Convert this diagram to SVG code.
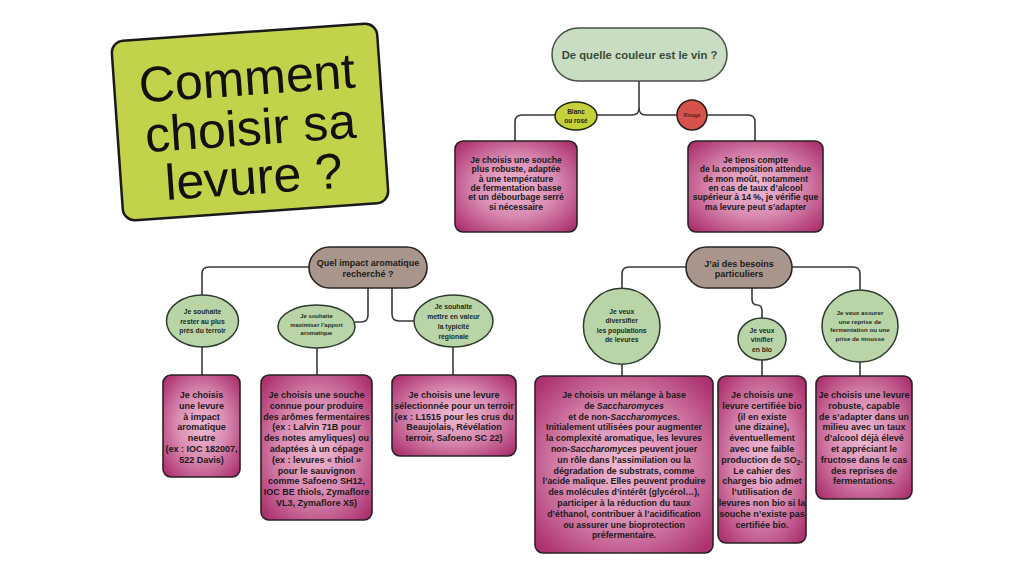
<svg xmlns="http://www.w3.org/2000/svg" width="1024" height="576" viewBox="0 0 1024 576">
<defs>
<radialGradient id="pink" cx="50%" cy="50%" r="65%">
<stop offset="0" stop-color="#eebad2"/>
<stop offset="0.5" stop-color="#d98bb1"/>
<stop offset="1" stop-color="#ad3370"/>
</radialGradient>
<style>
.box{fill:url(#pink);stroke:#2a2224;stroke-width:1.6}
.ell{fill:#b9d5a8;stroke:#2f3a2f;stroke-width:1.5}
.pill{fill:#a8968d;stroke:#2a2624;stroke-width:1.6}
.con{fill:none;stroke:#3a3a3a;stroke-width:1.6}
text{font-family:"Liberation Sans",Arial,sans-serif;font-weight:bold;text-anchor:middle;fill:#1c1a1b}
.bt{font-size:9px}
.tt{font-size:8.6px}
.et{font-size:6.8px;fill:#1f2a1f}
.pt{font-size:9px;fill:#211c1a}
</style>
</defs>
<rect width="1024" height="576" fill="#ffffff"/>

<g id="title" transform="translate(250,122) rotate(-4)">
<rect x="-133" y="-90" width="266" height="180" rx="12" fill="#c2d34b" stroke="#1a1a1a" stroke-width="2.5"/>
<text style="font-weight:normal;font-size:50px;fill:#111"><tspan x="0" y="-27">Comment</tspan><tspan x="0" y="23">choisir sa</tspan><tspan x="0" y="72">levure ?</tspan></text>
</g>

<g id="connectors">
<path class="con" d="M639,81 V108 Q639,115 632,115 H522 Q515,115 515,122 V141"/>
<path class="con" d="M639,108 Q639,115 646,115 H748 Q755,115 755,122 V141"/>
<path class="con" d="M309,267 H209 Q202,267 202,274 V295"/>
<path class="con" d="M368,288 V315 Q368,322 361,322 H355"/>
<path class="con" d="M392,288 V314 Q392,321 399,321 H414"/>
<path class="con" d="M202,347 V375"/>
<path class="con" d="M317,348 V375"/>
<path class="con" d="M453,347 V375"/>
<path class="con" d="M686,267 H629 Q622,267 622,274 V288"/>
<path class="con" d="M792,267 H853 Q860,267 860,274 V290"/>
<path class="con" d="M752,288 V299 Q752,305 757,305 Q762,305 762,311 V318"/>
<path class="con" d="M622,364 V376"/>
<path class="con" d="M762,360 V376"/>
<path class="con" d="M860,362 V376"/>
</g>

<g id="q-couleur">
<rect x="552" y="28" width="175" height="53" rx="26.5" fill="#c9ddc3" stroke="#4a4f48" stroke-width="1.5"/>
<text x="639.5" y="59" style="font-size:11.3px;fill:#3d4a3a">De quelle couleur est le vin ?</text>
</g>

<g id="blanc">
<ellipse cx="576" cy="116" rx="21" ry="14" fill="#c5d13a" stroke="#1f2418" stroke-width="1.5"/>
<text style="font-size:6.5px;fill:#1f2418"><tspan x="576" y="114">Blanc</tspan><tspan x="576" y="122.5">ou rosé</tspan></text>
</g>

<g id="rouge">
<circle cx="692" cy="115" r="15" fill="#d6524a" stroke="#2a1a1a" stroke-width="1.5"/>
<text x="692" y="117" style="font-size:5.5px;fill:#5a1e1e">Rouge</text>
</g>

<g id="box-blanc">
<rect class="box" x="455" y="141" width="122" height="91" rx="8"/>
<text class="tt"><tspan x="516" y="163">Je choisis une souche</tspan><tspan x="516" y="172.3">plus robuste, adaptée</tspan><tspan x="516" y="181.6">à une température</tspan><tspan x="516" y="190.9">de fermentation basse</tspan><tspan x="516" y="200.2">et un débourbage serré</tspan><tspan x="516" y="209.5">si nécessaire</tspan></text>
</g>

<g id="box-rouge">
<rect class="box" x="688" y="141" width="135" height="91" rx="8"/>
<text class="tt"><tspan x="755.5" y="163">Je tiens compte</tspan><tspan x="755.5" y="172.3">de la composition attendue</tspan><tspan x="755.5" y="181.6">de mon moût, notamment</tspan><tspan x="755.5" y="190.9">en cas de taux d’alcool</tspan><tspan x="755.5" y="200.2">supérieur à 14 %, je vérifie que</tspan><tspan x="755.5" y="209.5">ma levure peut s’adapter</tspan></text>
</g>

<g id="q-impact">
<rect class="pill" x="309" y="247" width="118" height="41" rx="20.5"/>
<text class="pt"><tspan x="368" y="266">Quel impact aromatique</tspan><tspan x="368" y="276.5">recherché ?</tspan></text>
</g>

<g id="q-besoins">
<rect class="pill" x="686" y="247" width="106" height="41" rx="20.5"/>
<text class="pt"><tspan x="739" y="266.5">J’ai des besoins</tspan><tspan x="739" y="277">particuliers</tspan></text>
</g>

<g id="e-terroir">
<ellipse class="ell" cx="202.5" cy="321" rx="36" ry="26"/>
<text class="et"><tspan x="202.5" y="314">Je souhaite</tspan><tspan x="202.5" y="323.5">rester au plus</tspan><tspan x="202.5" y="333">près du terroir</tspan></text>
</g>

<g id="e-aroma">
<ellipse class="ell" cx="316.5" cy="326.5" rx="38.5" ry="21.5"/>
<text class="et" style="font-size:5.9px"><tspan x="316.5" y="318">Je souhaite</tspan><tspan x="316.5" y="326.5">maximiser l’apport</tspan><tspan x="316.5" y="335">aromatique</tspan></text>
</g>

<g id="e-typicite">
<ellipse class="ell" cx="453.5" cy="321" rx="39.5" ry="26"/>
<text class="et"><tspan x="453.5" y="309">Je souhaite</tspan><tspan x="453.5" y="319">mettre en valeur</tspan><tspan x="453.5" y="329">la typicité</tspan><tspan x="453.5" y="339">régionale</tspan></text>
</g>

<g id="e-diversifier">
<ellipse class="ell" cx="621.7" cy="326.3" rx="38.3" ry="38"/>
<text class="et"><tspan x="621.7" y="314">Je veux</tspan><tspan x="621.7" y="323.3">diversifier</tspan><tspan x="621.7" y="332.6">les populations</tspan><tspan x="621.7" y="342">de levures</tspan></text>
</g>

<g id="e-bio">
<ellipse class="ell" cx="762" cy="339" rx="24" ry="21"/>
<text class="et"><tspan x="762" y="333">Je veux</tspan><tspan x="762" y="342.3">vinifier</tspan><tspan x="762" y="351.6">en bio</tspan></text>
</g>

<g id="e-reprise">
<ellipse class="ell" cx="860" cy="326" rx="38" ry="36"/>
<text class="et" style="font-size:6.2px"><tspan x="860" y="315">Je veux assurer</tspan><tspan x="860" y="323.5">une reprise de</tspan><tspan x="860" y="332">fermentation ou une</tspan><tspan x="860" y="340.5">prise de mousse</tspan></text>
</g>

<g id="box-neutre">
<rect class="box" x="163" y="375" width="77" height="102" rx="8"/>
<text class="bt"><tspan x="201.5" y="398">Je choisis</tspan><tspan x="201.5" y="408.8">une levure</tspan><tspan x="201.5" y="419.6">à impact</tspan><tspan x="201.5" y="430.4">aromatique</tspan><tspan x="201.5" y="441.2">neutre</tspan><tspan x="201.5" y="452">(ex : IOC 182007,</tspan><tspan x="201.5" y="462.8">522 Davis)</tspan></text>
</g>

<g id="box-aromes">
<rect class="box" x="261" y="375" width="111" height="145" rx="8"/>
<text class="bt"><tspan x="316.5" y="398">Je choisis une souche</tspan><tspan x="316.5" y="408.8">connue pour produire</tspan><tspan x="316.5" y="419.6">des arômes fermentaires</tspan><tspan x="316.5" y="430.4">(ex : Lalvin 71B pour</tspan><tspan x="316.5" y="441.2">des notes amyliques) ou</tspan><tspan x="316.5" y="452">adaptées à un cépage</tspan><tspan x="316.5" y="462.8">(ex : levures « thiol »</tspan><tspan x="316.5" y="473.6">pour le sauvignon</tspan><tspan x="316.5" y="484.4">comme Safoeno SH12,</tspan><tspan x="316.5" y="495.2">IOC BE thiols, Zymaflore</tspan><tspan x="316.5" y="506">VL3, Zymaflore X5)</tspan></text>
</g>

<g id="box-terroir">
<rect class="box" x="392" y="375" width="124" height="81" rx="8"/>
<text class="bt"><tspan x="454" y="398">Je choisis une levure</tspan><tspan x="454" y="408.8">sélectionnée pour un terroir</tspan><tspan x="454" y="419.6">(ex : L1515 pour les crus du</tspan><tspan x="454" y="430.4">Beaujolais, Révélation</tspan><tspan x="454" y="441.2">terroir, Safoeno SC 22)</tspan></text>
</g>

<g id="box-melange">
<rect class="box" x="535" y="376" width="178" height="177" rx="8"/>
<text class="bt" style="font-size:8.8px"><tspan x="624" y="398">Je choisis un mélange à base</tspan><tspan x="624" y="408.8">de <tspan font-style="italic">Saccharomyces</tspan></tspan><tspan x="624" y="419.6">et de non-<tspan font-style="italic">Saccharomyces</tspan>.</tspan><tspan x="624" y="430.4">Initialement utilisées pour augmenter</tspan><tspan x="624" y="441.2">la complexité aromatique, les levures</tspan><tspan x="624" y="452">non-<tspan font-style="italic">Saccharomyces</tspan> peuvent jouer</tspan><tspan x="624" y="462.8">un rôle dans l’assimilation ou la</tspan><tspan x="624" y="473.6">dégradation de substrats, comme</tspan><tspan x="624" y="484.4">l’acide malique. Elles peuvent produire</tspan><tspan x="624" y="495.2">des molécules d’intérêt (glycérol…),</tspan><tspan x="624" y="506">participer à la réduction du taux</tspan><tspan x="624" y="516.8">d’éthanol, contribuer à l’acidification</tspan><tspan x="624" y="527.6">ou assurer une bioprotection</tspan><tspan x="624" y="538.4">préfermentaire.</tspan></text>
</g>

<g id="box-bio">
<rect class="box" x="718" y="376" width="88" height="167" rx="8"/>
<text class="bt"><tspan x="762" y="398">Je choisis une</tspan><tspan x="762" y="408.8">levure certifiée bio</tspan><tspan x="762" y="419.6">(il en existe</tspan><tspan x="762" y="430.4">une dizaine),</tspan><tspan x="762" y="441.2">éventuellement</tspan><tspan x="762" y="452">avec une faible</tspan><tspan x="762" y="462.8">production de SO<tspan font-size="6.5px" dy="2">2</tspan><tspan dy="-2">.</tspan></tspan><tspan x="762" y="473.6">Le cahier des</tspan><tspan x="762" y="484.4">charges bio admet</tspan><tspan x="762" y="495.2">l’utilisation de</tspan><tspan x="762" y="506">levures non bio si la</tspan><tspan x="762" y="516.8">souche n’existe pas</tspan><tspan x="762" y="527.6">certifiée bio.</tspan></text>
</g>

<g id="box-reprise">
<rect class="box" x="816" y="376" width="96" height="123" rx="8"/>
<text class="bt"><tspan x="864" y="398">Je choisis une levure</tspan><tspan x="864" y="408.8">robuste, capable</tspan><tspan x="864" y="419.6">de s’adapter dans un</tspan><tspan x="864" y="430.4">milieu avec un taux</tspan><tspan x="864" y="441.2">d’alcool déjà élevé</tspan><tspan x="864" y="452">et appréciant le</tspan><tspan x="864" y="462.8">fructose dans le cas</tspan><tspan x="864" y="473.6">des reprises de</tspan><tspan x="864" y="484.4">fermentations.</tspan></text>
</g>
</svg>
